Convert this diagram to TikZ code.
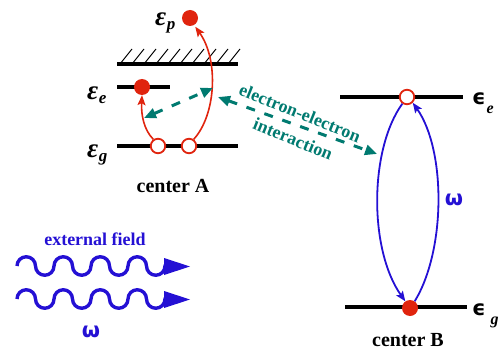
\documentclass[tikz,border=0pt]{standalone}
\usepackage{fontspec}
\setmainfont{Liberation Serif}
\newfontfamily\djsans{DejaVu Sans}
\usetikzlibrary{arrows.meta}
\definecolor{myred}{RGB}{224,36,14}
\definecolor{myblue}{RGB}{36,16,212}
\definecolor{myteal}{RGB}{0,122,112}
\newcommand{\levA}[1]{\fontsize{27}{27}\selectfont\bfseries\itshape ε\kern0.5pt\raisebox{-4pt}{\fontsize{17}{17}\selectfont #1}}
\newcommand{\levB}[2]{{\djsans\fontsize{21}{21}\selectfont\bfseries ϵ}\kern#2\raisebox{-9pt}{\fontsize{16}{16}\selectfont\bfseries\itshape #1}}
\begin{document}
\begin{tikzpicture}[x=1pt,y=-1pt,
  level/.style={line width=3.2pt},
  hatch/.style={line width=1pt},
  fulldot/.style={circle,fill=myred,inner sep=0pt,minimum size=16pt},
  emptydot/.style={circle,draw=myred,fill=white,line width=1.8pt,inner sep=0pt,minimum size=14.5pt},
  redarrow/.style={myred,line width=1.6pt,-{Stealth[length=10pt,width=8pt,inset=2pt]}},
  bluearrow/.style={myblue,line width=1.8pt,-{Stealth[length=10pt,width=8pt,inset=2pt]}},
  tealarrow/.style={myteal,line width=3pt,dash pattern=on 9pt off 10pt,{Triangle[length=12pt,width=10pt]}-{Triangle[length=12pt,width=10pt]}},
  wave/.style={myblue,line width=3.4pt},
  lbl/.style={inner sep=0pt},
  ttext/.style={inner sep=0pt,text=myteal,font=\fontsize{18}{18}\selectfont\bfseries,rotate=-22}
]
\useasboundingbox (0,0) rectangle (500,350);

% ---- center A ----
\draw[level] (117,64) -- (238,64);
\foreach \k in {0,...,9}{\draw[hatch] (120+12*\k,64) -- ++(12,-15);}
\draw[level] (117,87) -- (170,87);
\draw[level] (117,146) -- (238,146);

\node[fulldot] (pA) at (190,18) {};
\node[fulldot] (eA) at (142,87) {};
\node[emptydot] (gA1) at (158,146) {};
\node[emptydot] (gA2) at (189,146) {};

\draw[redarrow] (gA1.125) .. controls (144,130) and (141,115) .. (eA.south);
\draw[redarrow,shorten >=2pt] (gA2.55) .. controls (216,115) and (219,60) .. (pA.-60);

\node[lbl,anchor=base west] (lp) at (155,26) {\levA{p}};
\node[lbl,anchor=base west] (le) at (87,100) {\levA{e}};
\node[lbl,anchor=base west] (lg) at (87,157) {\levA{g}};

\node[lbl,anchor=base,font=\fontsize{20}{20}\selectfont\bfseries] (cA) at (173,192) {center A};

% ---- interaction ----
\coordinate (t1a) at (144,118);
\coordinate (t1b) at (213,88);
\coordinate (t2a) at (218,97);
\coordinate (t2b) at (377,154);
\draw[tealarrow] (t1a) -- (t1b);
\draw[tealarrow] (t2a) -- (t2b);
\node[ttext] (ee) at (300,113) {electron-electron};
\node[ttext] (ia) at (293,139) {interaction};

% ---- center B ----
\draw[level] (340,97) -- (463,97);
\draw[level] (345,307) -- (467,307);
\node[emptydot] (oB) at (407,97) {};
\node[fulldot] (gB) at (410,308) {};
\draw[bluearrow] (oB.235) .. controls (369,150) and (369,250) .. (gB.125);
\draw[bluearrow] (gB.55) .. controls (446,250) and (446,150) .. (oB.-45);
\node[lbl,anchor=base west] (lBe) at (472,105) {\levB{e}{1pt}};
\node[lbl,anchor=base west] (lBg) at (472,315) {\levB{g}{5pt}};
\node[lbl,anchor=base,text=myblue,font=\djsans\fontsize{21}{21}\selectfont\bfseries] (wB) at (454,205) {ω};
\node[lbl,anchor=base,font=\fontsize{20}{20}\selectfont\bfseries] (cB) at (408,346) {center B};

% ---- external field ----
\node[lbl,anchor=base,text=myblue,font=\fontsize{18}{18}\selectfont\bfseries] (ef) at (95,245) {external field};
\draw[wave] (17,266) \foreach \i in {1,...,4}{ arc[start angle=180,end angle=360,radius=9.25] arc[start angle=180,end angle=0,radius=9.25]} -- ++(2,0) coordinate (w1);
\fill[myblue] (164,258) -- (190,266.5) -- (164,275) -- cycle;
\draw[wave] (17,299) \foreach \i in {1,...,4}{ arc[start angle=180,end angle=360,radius=9.25] arc[start angle=180,end angle=0,radius=9.25]} -- ++(2,0) coordinate (w2);
\fill[myblue] (164,291) -- (190,299.5) -- (164,308) -- cycle;
\node[lbl,anchor=base,text=myblue,font=\djsans\fontsize{21}{21}\selectfont\bfseries] (wA) at (91,337) {ω};
\end{tikzpicture}
\end{document}
